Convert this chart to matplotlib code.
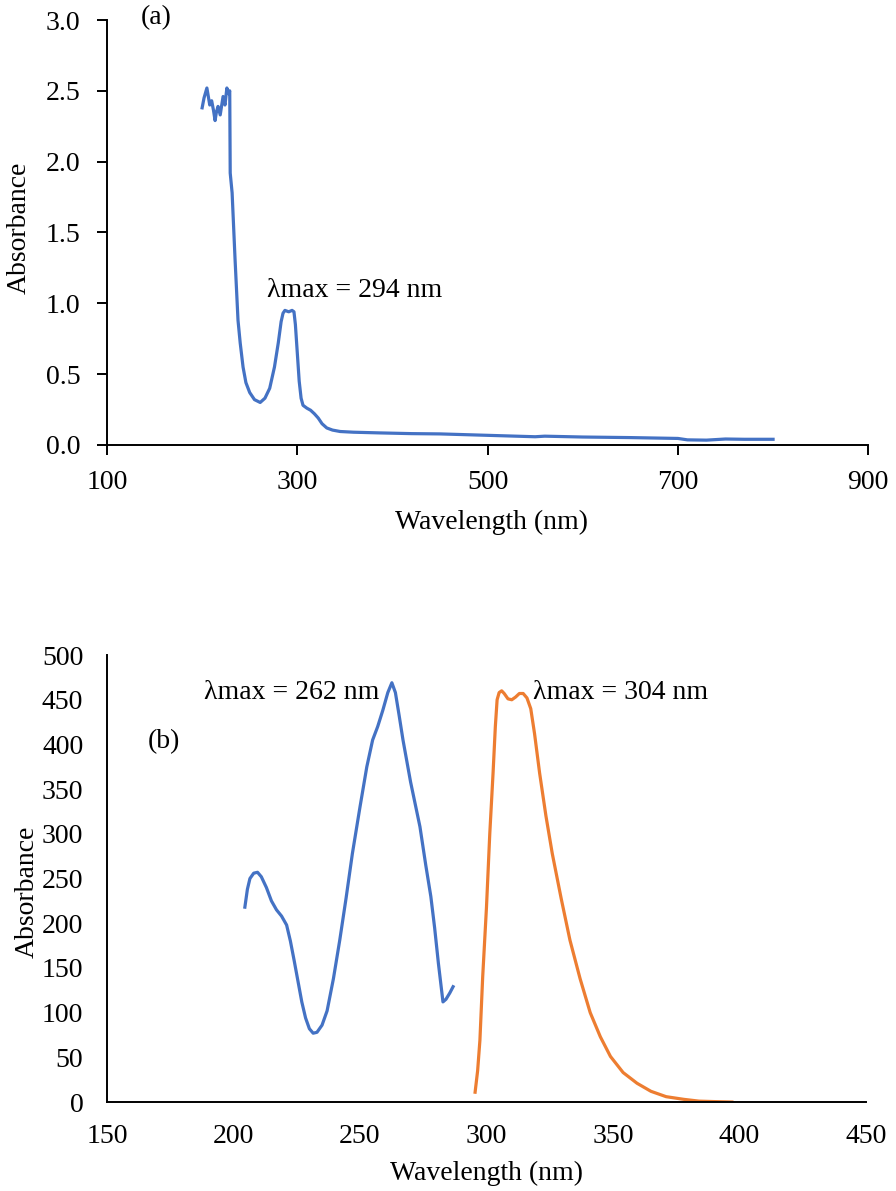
import matplotlib
matplotlib.use("Agg")
import matplotlib.pyplot as plt

plt.rcParams["font.family"] = ["Liberation Serif", "DejaVu Serif"]

# ------------------------------------------------------------------
# Data
# ------------------------------------------------------------------
# (a) single spectrum, 200-800 nm
wl_a = [200, 202, 205, 208, 210, 212, 213.6, 215, 216.7, 219, 222, 224, 226,
        228, 229, 229.5, 231.5, 234.6, 237.7, 240, 243, 246, 250, 255, 261,
        266, 271, 276, 280, 283, 285, 287, 291, 294.5, 296.5, 298, 300, 302,
        304, 306, 310, 314, 318, 322, 326, 331, 337, 345, 359, 387, 420,
        450, 500, 550, 560, 600, 650, 700, 710, 730, 750, 770, 800]
abs_a = [2.38, 2.45, 2.52, 2.40, 2.43, 2.36, 2.29, 2.35, 2.39, 2.33, 2.46,
         2.40, 2.52, 2.48, 2.50, 1.92, 1.78, 1.31, 0.88, 0.72, 0.55, 0.44,
         0.37, 0.32, 0.30, 0.33, 0.40, 0.55, 0.72, 0.87, 0.93, 0.95, 0.94,
         0.95, 0.94, 0.85, 0.65, 0.45, 0.33, 0.28, 0.26, 0.245, 0.22, 0.19,
         0.15, 0.12, 0.105, 0.095, 0.09, 0.085, 0.08, 0.078, 0.068, 0.058,
         0.062, 0.056, 0.052, 0.046, 0.036, 0.034, 0.042, 0.040, 0.040]

# (b) blue spectrum
wl_b1 = [204.5, 205.5, 206.5, 208, 209.5, 211, 213, 215, 217, 219, 221,
         222.5, 224, 225.5, 227, 228.5, 230, 231.5, 233, 235, 237, 239.5,
         242, 244.5, 247, 250, 252.7, 255, 257, 259, 261, 262.6, 264, 265.5,
         267, 270, 273.7, 276, 278, 279.5, 281, 282.8, 284, 285.5, 286.8]
abs_b1 = [218, 238, 250, 256, 257, 252, 240, 225, 215, 208, 198, 180, 158,
          135, 112, 94, 82, 77, 78, 86, 102, 138, 181, 228, 278, 330, 375,
          405, 420, 438, 458, 469, 458, 432, 405, 358, 308, 265, 230, 195,
          155, 112, 115, 122, 129]

# (b) orange spectrum
wl_b2 = [295.5, 296.5, 297.4, 298.5, 300, 301.3, 302.6, 303.5, 304.2, 305,
         306, 307, 308.5, 310, 311.5, 313, 314.5, 316, 317.5, 319, 321,
         323.5, 326, 329.5, 333, 337, 341, 345, 349, 354, 359.5, 365, 371,
         378, 384, 390, 397]
abs_b2 = [11, 35, 69, 140, 218, 300, 368, 420, 450, 458, 460, 457, 451, 450,
          453, 457, 457, 452, 440, 412, 368, 320, 278, 228, 181, 138, 100,
          73, 51, 33, 21, 12, 6, 3, 1, 0.5, 0]

BLUE = "#4472C4"
ORANGE = "#ED7D31"
FS = 20

fig = plt.figure(figsize=(8.96, 11.91), dpi=100)
ax_a = fig.add_axes([0.1194, 0.6264, 0.8496, 0.3568])
ax_b = fig.add_axes([0.1194, 0.0747, 0.8471, 0.3753])


def style(ax, tick_len, xpad, ypad):
    for side in ("top", "right"):
        ax.spines[side].set_visible(False)
    for side in ("left", "bottom"):
        ax.spines[side].set_linewidth(1.4)
    ax.tick_params(direction="out", length=tick_len, width=1.4, labelsize=FS)
    ax.tick_params(axis="x", pad=xpad)
    ax.tick_params(axis="y", pad=ypad)


# ---- panel (a)
ax_a.plot(wl_a, abs_a, color=BLUE, lw=2.3)
ax_a.set_xlim(100, 900)
ax_a.set_ylim(0, 3.0)
ax_a.set_xticks([100, 300, 500, 700, 900])
ax_a.set_yticks([0.0, 0.5, 1.0, 1.5, 2.0, 2.5, 3.0])
ax_a.set_yticklabels([f"{v:.1f}" for v in ax_a.get_yticks()])
ax_a.set_xlabel("Wavelength (nm)", fontsize=FS)
ax_a.set_ylabel("Absorbance", fontsize=FS)
ax_a.xaxis.set_label_coords(0.505, -0.152)
ax_a.yaxis.set_label_coords(-0.099, 0.51)
ax_a.text(135, 3.02, "(a)", fontsize=FS, va="center", clip_on=False)
ax_a.text(268, 1.09, "λmax = 294 nm", fontsize=FS, va="center")
style(ax_a, 7, 11, 12)

# ---- panel (b)
ax_b.plot(wl_b1, abs_b1, color=BLUE, lw=2.3)
ax_b.plot(wl_b2, abs_b2, color=ORANGE, lw=2.3)
ax_b.set_xlim(150, 450)
ax_b.set_ylim(0, 500)
ax_b.set_xticks(range(150, 451, 50))
ax_b.set_yticks(range(0, 501, 50))
ax_b.set_xlabel("Wavelength (nm)", fontsize=FS)
ax_b.set_ylabel("Absorbance", fontsize=FS)
ax_b.xaxis.set_label_coords(0.5, -0.131)
ax_b.yaxis.set_label_coords(-0.088, 0.47)
ax_b.text(188.5, 458, "λmax = 262 nm", fontsize=FS, va="center")
ax_b.text(318.5, 458, "λmax = 304 nm", fontsize=FS, va="center")
ax_b.text(166, 403, "(b)", fontsize=FS, va="center")
style(ax_b, 0, 16, 17)

fig.savefig("out.png", dpi=100)
